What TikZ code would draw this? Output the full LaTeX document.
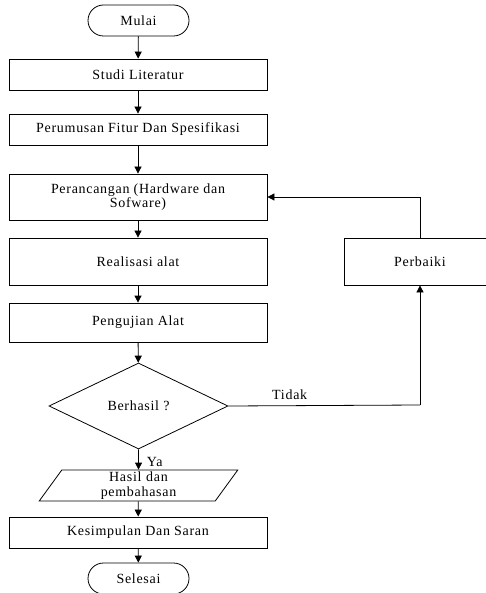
\documentclass[tikz,border=0pt]{standalone}
\usepackage{fontspec}
\setmainfont{Liberation Serif}
\usetikzlibrary{shapes.geometric,shapes.misc,arrows.meta}
\begin{document}
\begin{tikzpicture}[x=1pt,y=1pt,
  every node/.style={font=\fontsize{14}{14.5}\selectfont\addfontfeatures{LetterSpace=5}},
  box/.style={draw,thick,rectangle,minimum width=258pt,minimum height=31pt,inner sep=0pt,align=center},
  term/.style={draw,thick,rounded rectangle,minimum width=101pt,minimum height=31pt,inner sep=0pt},
  dec/.style={draw,thick,diamond,minimum width=179pt,minimum height=86pt,inner sep=0pt,shape aspect=2.08},
  io/.style={draw,thick,trapezium,trapezium left angle=57,trapezium right angle=123,trapezium stretches=true,minimum width=199pt,minimum height=31pt,inner sep=0pt,align=center,text width=120pt},
  arr/.style={thick,-{Triangle[length=7pt,width=7pt]}},
  lbl/.style={inner sep=0pt}]
\useasboundingbox (0,0) rectangle (486,-593);
\node[term] (mulai) at (138.5,-20.5) {Mulai};
\node[box] (studi) at (138,-74.5) {Studi Literatur};
\node[box] (rumus) at (138,-129.5) {Perumusan Fitur Dan Spesifikasi};
\node[box,minimum height=46pt] (rancang) at (138,-197) {Perancangan (Hardware dan\\Sofware)};
\node[box,minimum height=47pt] (real) at (138,-261.5) {Realisasi alat};
\node[box,minimum height=39pt] (uji) at (138,-322.5) {Pengujian Alat};
\node[dec] (dec) at (138.5,-406) {Berhasil ?};
\node[io] (hasil) at (138.5,-485.5) {Hasil dan\\pembahasan};
\node[box] (simpul) at (138,-532.5) {Kesimpulan Dan Saran};
\node[term] (selesai) at (138.5,-578.5) {Selesai};
\node[box,minimum width=152pt,minimum height=47pt] (baik) at (420,-261.5) {Perbaiki};
\coordinate (c1) at (420,-197);
\coordinate (c2) at (420,-405);
\draw[arr] (mulai) -- (studi);
\draw[arr] (studi) -- (rumus);
\draw[arr] (rumus) -- (rancang);
\draw[arr] (rancang) -- (real);
\draw[arr] (real) -- (uji);
\draw[arr] (uji) -- (dec);
\draw[arr] (dec) -- (hasil) node[lbl,pos=0.6,right=8pt] {Ya};
\draw[arr] (hasil) -- (simpul);
\draw[arr] (simpul) -- (selesai);
\draw[thick] (dec.east) -- (c2) node[lbl,pos=0.32,above=6pt] {Tidak};
\draw[arr] (c2) -- (baik.south);
\draw[thick] (baik.north) -- (c1);
\draw[arr] (c1) -- (rancang.east);
\end{tikzpicture}
\end{document}
